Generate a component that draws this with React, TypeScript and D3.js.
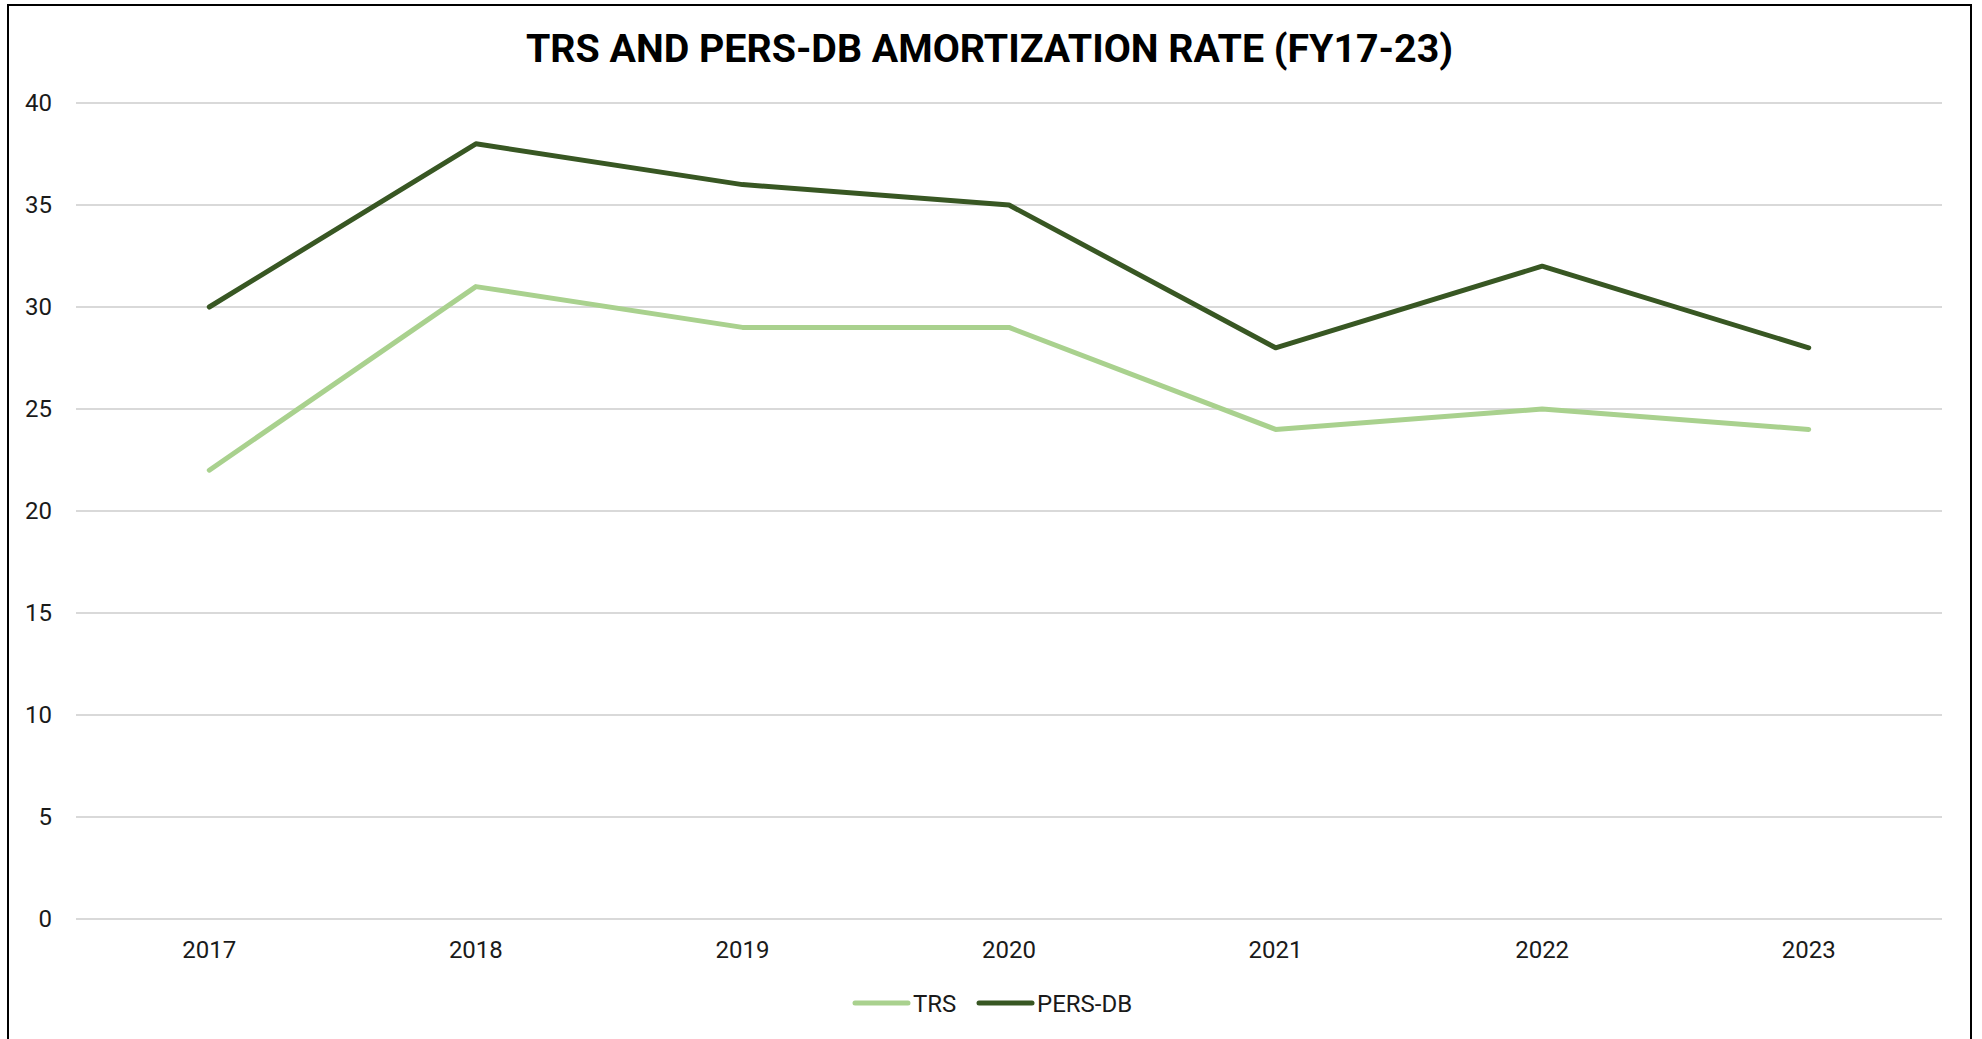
import React from "react";
import * as d3 from "d3";

const categories = ["2017", "2018", "2019", "2020", "2021", "2022", "2023"];
const trs = [22, 31, 29, 29, 24, 25, 24];
const persDb = [30, 38, 36, 35, 28, 32, 28];
const yTicks = [0, 5, 10, 15, 20, 25, 30, 35, 40];
const seriesNames = ["TRS", "PERS-DB"];
const seriesColors = ["#a9d18e", "#385723"];
const title = "TRS AND PERS-DB AMORTIZATION RATE (FY17-23)";

const W = 1982;
const H = 1039;
const plotLeft = 76;
const plotRight = 1942;
const plotTop = 103;
const plotBottom = 919;
const FONT = "Roboto, 'Noto Sans', sans-serif";

export default function App() {
  const x = d3.scaleBand<string>().domain(categories).range([plotLeft, plotRight]).padding(0);
  const y = d3.scaleLinear().domain([0, 40]).range([plotBottom, plotTop]);
  const cx = (c: string) => (x(c) as number) + x.bandwidth() / 2;
  const line = d3
    .line<number>()
    .x((_, i) => cx(categories[i]))
    .y((d) => y(d));
  const series = [trs, persDb];

  const legendItems = [
    { lx: 853, tx: 913 },
    { lx: 977, tx: 1037 },
  ];

  return (
    <svg
      width={W}
      height={H}
      style={{ position: "absolute", left: 0, top: 0, background: "#fff" }}
    >
      <rect x={0} y={0} width={W} height={H} fill="#fff" />
      <rect x={8} y={5} width={1963} height={1100} fill="#fff" stroke="#000" strokeWidth={2} />
      <text
        x={989.5}
        y={62}
        textAnchor="middle"
        fontFamily={FONT}
        fontWeight={700}
        fontSize={38}
        fill="#000"
        textLength={927}
        lengthAdjust="spacingAndGlyphs"
      >
        {title}
      </text>
      {yTicks.map((t) => (
        <g key={t}>
          <line
            x1={plotLeft}
            x2={plotRight}
            y1={y(t)}
            y2={y(t)}
            stroke="#d9d9d9"
            strokeWidth={2}
          />
          <text
            x={52}
            y={y(t)}
            dy="0.35em"
            textAnchor="end"
            fontFamily={FONT}
            fontSize={24}
            fill="#1a1a1a"
          >
            {t}
          </text>
        </g>
      ))}
      {categories.map((c) => (
        <text
          key={c}
          x={cx(c)}
          y={958}
          textAnchor="middle"
          fontFamily={FONT}
          fontSize={24}
          fill="#1a1a1a"
        >
          {c}
        </text>
      ))}
      {series.map((s, i) => (
        <path
          key={seriesNames[i]}
          d={line(s) as string}
          fill="none"
          stroke={seriesColors[i]}
          strokeWidth={5}
          strokeLinejoin="round"
          strokeLinecap="round"
        />
      ))}
      {seriesNames.map((n, i) => (
        <g key={n}>
          <line
            x1={legendItems[i].lx + 2}
            x2={legendItems[i].lx + 55}
            y1={1003}
            y2={1003}
            stroke={seriesColors[i]}
            strokeWidth={5}
            strokeLinecap="round"
          />
          <text
            x={legendItems[i].tx}
            y={1012}
            fontFamily={FONT}
            fontSize={24}
            fill="#1a1a1a"
          >
            {n}
          </text>
        </g>
      ))}
    </svg>
  );
}
